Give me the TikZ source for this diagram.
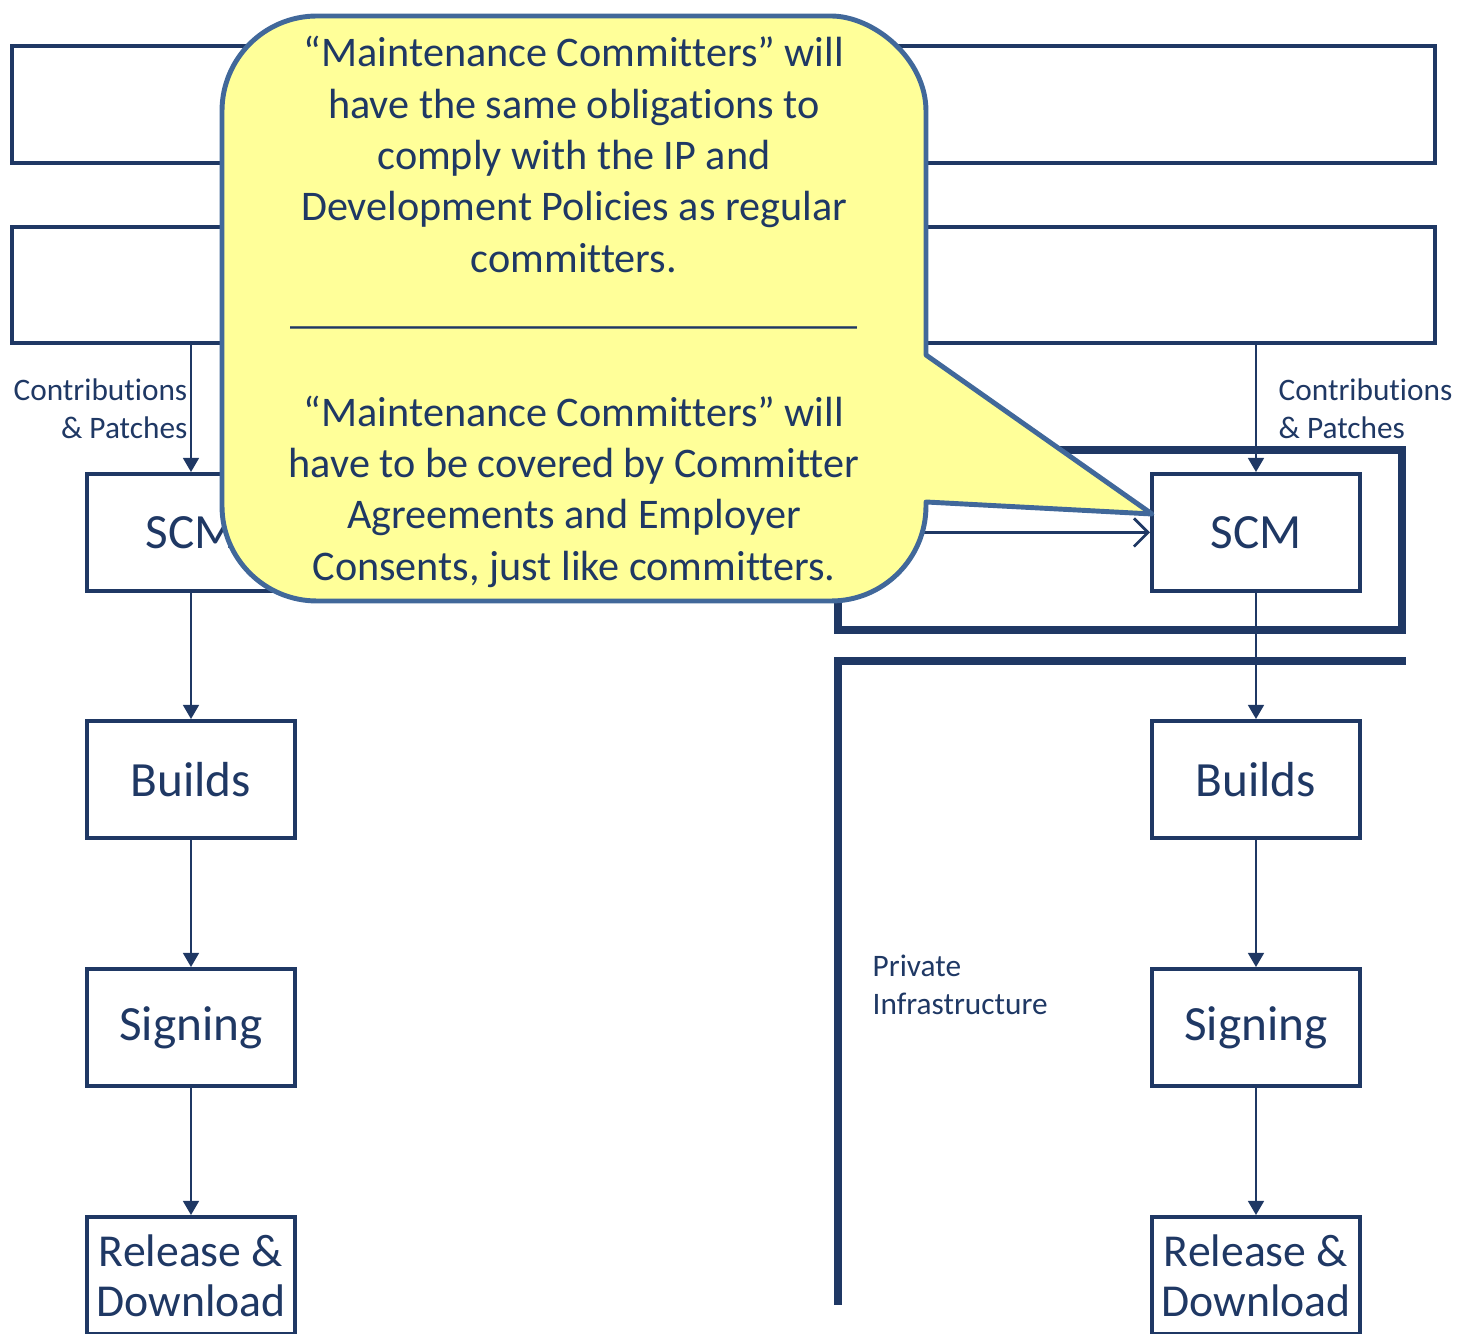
\documentclass[tikz,border=0pt]{standalone}
\usepackage{fontspec}
\setmainfont[Ligatures=NoCommon]{Carlito}
\usetikzlibrary{arrows.meta}
\definecolor{navy}{RGB}{31,56,100}
\definecolor{calloutline}{RGB}{65,104,154}
\definecolor{calloutfill}{RGB}{255,255,153}
\begin{document}
\begin{tikzpicture}[x=0.01cm,y=-0.01cm,
  box/.style={draw=navy,line width=1.1pt,minimum width=2.08cm,minimum height=1.17cm,inner sep=0pt,text=navy,font=\fontsize{14}{14.2}\selectfont,align=center},
  band/.style={draw=navy,line width=1.1pt,inner sep=0pt,minimum width=14.23cm},
  flow/.style={draw=navy,line width=0.6pt,-{Triangle[length=4pt,width=4.5pt]}},
  heavy/.style={draw=navy,line width=2.3pt},
  small/.style={text=navy,font=\fontsize{8.9}{10.8}\selectfont,inner sep=0pt},
  callout/.style={draw=calloutline,fill=calloutfill,line width=1.4pt,line join=round},
  callouttext/.style={text=navy,font=\fontsize{12}{14.6}\selectfont,align=center,inner sep=0pt}]
\useasboundingbox (0,0) rectangle (1462,1334);
\clip (0,0) rectangle (1462,1334);

% top bands
\node[band,minimum height=1.17cm] (topA) at (723.5,104.5) {};
\node[band,minimum height=1.16cm] (topB) at (723.5,285) {};

% heavy frame lines (right)
\draw[heavy] (838,450) rectangle (1402,630);
\draw[heavy] (838,1305) -- (838,661) -- (1406,661);

% left column
\node[box] (scmL) at (191,532.5) {SCM};
\node[box] (buildL) at (191,779.5) {Builds};
\node[box] (signL) at (191,1027.5) {Signing};
\node[box,font=\fontsize{13}{14.2}\selectfont] (relL) at (191,1275.5) {Release \&\\Download};

% right column
\node[box] (scmR) at (1256,532.5) {SCM};
\node[box] (buildR) at (1256,779.5) {Builds};
\node[box] (signR) at (1256,1027.5) {Signing};
\node[box,font=\fontsize{13}{14.2}\selectfont] (relR) at (1256,1275.5) {Release \&\\Download};

% flows
\draw[flow] (scmL |- topB.south) -- (scmL.north);
\draw[flow] (scmL) -- (buildL);
\draw[flow] (buildL) -- (signL);
\draw[flow] (signL) -- (relL);
\draw[flow] (scmR |- topB.south) -- (scmR.north);
\draw[flow] (scmR) -- (buildR);
\draw[flow] (buildR) -- (signR);
\draw[flow] (signR) -- (relR);
\draw[navy,line width=0.8pt,-{Straight Barb[length=4pt,width=8pt]}] (scmL.east) -- (scmR.west);

% labels
\node[small,anchor=east,align=right] (contribL) at (188,409) {Contributions\\\& Patches};
\node[small,anchor=west,align=left] (contribR) at (1278,409) {Contributions\\\& Patches};
\node[small,anchor=west,align=left] (priv) at (872,985) {Private\\Infrastructure};

% callout
\coordinate (tip) at (1152,514);
\draw[callout] (926,355) -- (926,111)
  .. controls (926,58.5) and (873.5,16) .. (831,16)
  -- (317,16)
  .. controls (264.5,16) and (222,58.5) .. (222,111)
  -- (222,506)
  .. controls (222,558.5) and (264.5,601) .. (317,601)
  -- (831,601)
  .. controls (883.5,601) and (926,558.5) .. (926,506)
  -- (926,502) -- (tip) -- cycle;
\node[callouttext] (note) at (574,312) {“Maintenance Committers” will\\
have the same obligations to\\
comply with the IP and\\
Development Policies as regular\\
committers.\\
\_\_\_\_\_\_\_\_\_\_\_\_\_\_\_\_\_\_\_\_\_\_\_\_\_\_\_\\
\mbox{}\\
“Maintenance Committers” will\\
have to be covered by Committer\\
Agreements and Employer\\
Consents, just like committers.};
\end{tikzpicture}
\end{document}
